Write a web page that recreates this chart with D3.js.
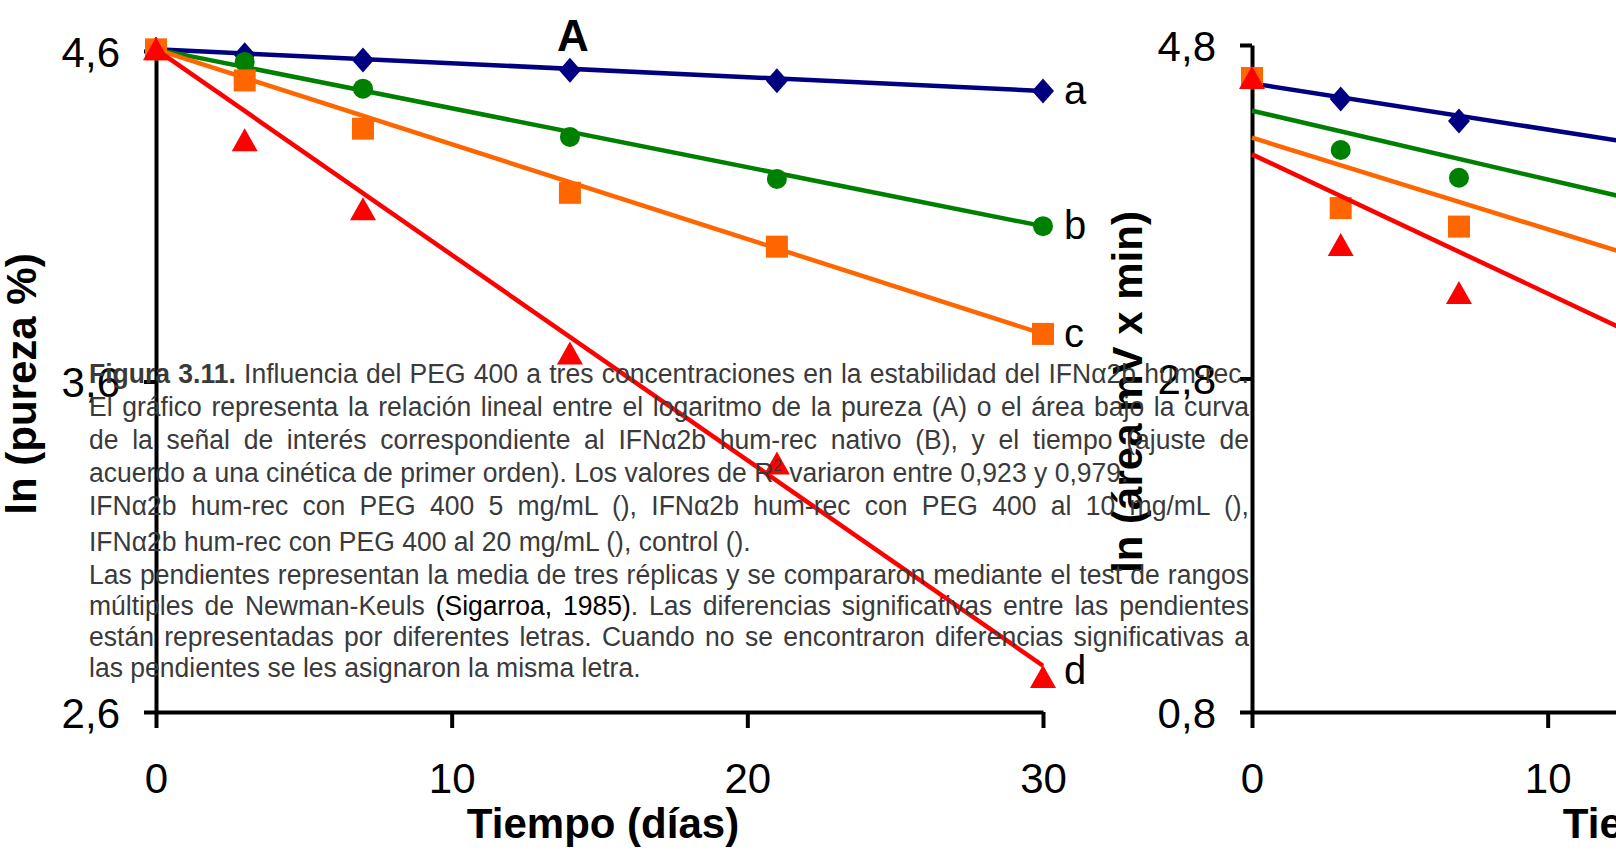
<!DOCTYPE html>
<meta charset="utf-8">
<style>
  body { margin: 0; background: #fff; }
  svg { display: block; }
</style>
<svg width="1616" height="851" font-family="'Liberation Sans', Arial, sans-serif"></svg>
<script src="https://d3js.org/d3.v7.min.js"></script>
<script>

// ---- data ----
var dias = [0, 3, 7, 14, 21, 30];
var diasB = [0, 3, 7];            // only these are inside the frame for panel B
var etiquetas = ["a", "b", "c", "d"];

// panel A: ln (pureza %)
var purezaA = [4.605, 4.589, 4.573, 4.542, 4.510, 4.479];
var purezaB = [4.605, 4.567, 4.486, 4.340, 4.213, 4.070];
var purezaC = [4.605, 4.511, 4.365, 4.171, 4.008, 3.744];
var purezaD = [4.605, 4.330, 4.121, 3.685, 3.352, 2.706];
// fitted lines, value at day 0 and day 30
var ajusteA = [[4.605, 4.479], [4.605, 4.070], [4.605, 3.744], [4.605, 2.740]];

// panel B: ln (área mV x min)
var areaA = [4.602, 4.476, 4.344];
var areaB = [4.602, 4.170, 4.004];
var areaC = [4.602, 3.822, 3.711];
var areaD = [4.602, 3.600, 3.313];
var ajusteB = [[4.570, 3.738], [4.406, 3.168], [4.244, 2.597], [4.144, 1.641]];

var ticksX = [0, 10, 20, 30];
var ticksYA = [2.6, 3.6, 4.6];
var ticksYB = [0.8, 2.8, 4.8];

var colores = ["#000080", "#008000", "#ff6600", "#ff0000"];
var formas = ["diamond", "circle", "square", "triangle"];

var svg = d3.select("svg");
var coma = function(d) { return d3.format(".1f")(d).replace(".", ","); };

// scales
var xA = d3.scaleLinear().domain([0, 30]).range([156, 1043]);
var yA = d3.scaleLinear().domain([2.6, 4.6]).range([712, 51]);
var xB = d3.scaleLinear().domain([0, 30]).range([1252, 2139]);
var yB = d3.scaleLinear().domain([0.8, 4.8]).range([712, 45]);

function marker(sel, forma, color) {
  if (forma == "circle") {
    sel.append("circle").attr("r", 10).attr("fill", color);
  } else if (forma == "square") {
    sel.append("rect").attr("x", -11).attr("y", -11).attr("width", 22).attr("height", 22).attr("fill", color);
  } else if (forma == "diamond") {
    sel.append("path").attr("d", "M0,-12.5L11,0L0,12.5L-11,0Z").attr("fill", color);
  } else {
    sel.append("path").attr("d", "M0,-12L13,11L-13,11Z").attr("fill", color);
  }
}

function panel(x, y, xs, series, ajustes, ticksY) {
  var g = svg.append("g");

  var ax = g.append("g").attr("transform", "translate(0," + y.range()[0] + ")")
    .call(d3.axisBottom(x).tickValues(ticksX).tickSize(16).tickSizeOuter(0).tickPadding(35).tickFormat(d3.format("d")));
  var ay = g.append("g").attr("transform", "translate(" + x.range()[0] + ",0)")
    .call(d3.axisLeft(y).tickValues(ticksY).tickSize(12).tickSizeOuter(0).tickPadding(24).tickFormat(coma));
  [ax, ay].forEach(function(a) {
    a.selectAll("path, line").attr("stroke", "#000").attr("stroke-width", 4);
    a.selectAll("text").attr("fill", "#000").attr("font-size", 42)
      .attr("font-family", "'Liberation Sans', Arial, sans-serif");
  });
  ay.selectAll("text").attr("dy", "0.36em");

  series.forEach(function(vals, i) {
    g.append("line")
      .attr("x1", x(0)).attr("y1", y(ajustes[i][0]))
      .attr("x2", x(30)).attr("y2", y(ajustes[i][1]))
      .attr("stroke", colores[i]).attr("stroke-width", 4.5);
    g.selectAll(null).data(vals).enter().append("g")
      .attr("transform", function(d, j) { return "translate(" + x(xs[j]) + "," + y(d) + ")"; })
      .each(function() { marker(d3.select(this), formas[i], colores[i]); });
  });
  return g;
}

var gA = panel(xA, yA, dias, [purezaA, purezaB, purezaC, purezaD], ajusteA, ticksYA);
var gB = panel(xB, yB, diasB, [areaA, areaB, areaC, areaD], ajusteB, ticksYB);

// letters at the end of each line in panel A
var finales = [purezaA, purezaB, purezaC, purezaD].map(function(s) { return s[s.length - 1]; });
gA.selectAll(".letra").data(etiquetas).enter().append("text")
  .attr("x", xA(30) + 21)
  .attr("y", function(d, i) { return Math.min(yA(finales[i]) + 13, 684); })
  .attr("font-size", 40)
  .text(function(d) { return d; });

// titles
svg.append("text").attr("x", 573).attr("y", 51).attr("text-anchor", "middle")
  .attr("font-size", 44).attr("font-weight", "bold").text("A");
svg.append("text").attr("x", 603).attr("y", 838).attr("text-anchor", "middle")
  .attr("font-size", 42).attr("font-weight", "bold").text("Tiempo (días)");
svg.append("text").attr("x", 1699).attr("y", 838).attr("text-anchor", "middle")
  .attr("font-size", 42).attr("font-weight", "bold").text("Tiempo (días)");
svg.append("text").attr("transform", "translate(36,384) rotate(-90)").attr("text-anchor", "middle")
  .attr("font-size", 42).attr("font-weight", "bold").text("ln (pureza %)");
svg.append("text").attr("transform", "translate(1142,392) rotate(-90)").attr("text-anchor", "middle")
  .attr("font-size", 42).attr("font-weight", "bold").text("ln (área mV x min)");

// caption laid over the figure (narrow face imitated by squeezing Liberation Sans)
var leyenda = [
  {j: true, p: [{t: "Figura 3.11.", b: true}, {t: " Influencia del PEG 400 a tres concentraciones en la estabilidad del IFNα2b hum-rec."}]},
  {j: true, p: [{t: "El gráfico representa la relación lineal entre el logaritmo de la pureza (A) o el área bajo la curva"}]},
  {j: true, p: [{t: "de la señal de interés correspondiente al IFNα2b hum-rec nativo (B), y el tiempo (ajuste de"}]},
  {j: false, p: [{t: "acuerdo a una cinética de primer orden). Los valores de R"}, {t: "2", sup: true}, {t: " variaron entre 0,923 y 0,979.", back: true}]},
  {j: true, p: [{t: "IFNα2b hum-rec con PEG 400 5 mg/mL (),  IFNα2b hum-rec con PEG 400 al 10 mg/mL (),"}]},
  {j: false, p: [{t: "IFNα2b hum-rec con PEG 400 al 20 mg/mL  (), control ()."}]},
  {j: true, p: [{t: "Las pendientes representan la media de tres réplicas y se compararon mediante el test de rangos"}]},
  {j: true, p: [{t: "múltiples de Newman-Keuls "}, {t: "(Sigarroa, 1985)", k: true}, {t: ". Las diferencias significativas entre las pendientes"}]},
  {j: true, p: [{t: "están representadas por diferentes letras. Cuando no se encontraron diferencias significativas a"}]},
  {j: false, p: [{t: "las pendientes se les asignaron la misma letra."}]}
];
var renglones = [383, 416, 449, 482, 515, 551, 584, 615, 646, 677];
var ancho = 1160;

var cap = svg.append("g").attr("font-size", 28).attr("fill", "#3a3a3a");

var textos = leyenda.map(function(l, i) {
  var t = cap.append("text").attr("x", 0).attr("y", renglones[i]);
  l.p.forEach(function(p) {
    var s = t.append("tspan").text(p.t);
    if (p.b) s.attr("font-weight", "bold");
    if (p.k) s.attr("fill", "#000");
    if (p.sup) s.attr("font-size", 16).attr("dy", -11);
    if (p.back) s.attr("dy", 11);
  });
  return t;
});

// squeeze so the last (ragged) line is as long as in the figure
var k = 552 / textos[9].node().getComputedTextLength();
cap.attr("transform", "translate(89,0) scale(" + k + ",1)");

leyenda.forEach(function(l, i) {
  if (!l.j) return;
  var t = textos[i];
  var w = t.node().getComputedTextLength();
  var n = t.text().replace(/\s+/g, " ").split(" ").length - 1;
  t.style("word-spacing", ((ancho / k - w) / n) + "px");
});

</script>
